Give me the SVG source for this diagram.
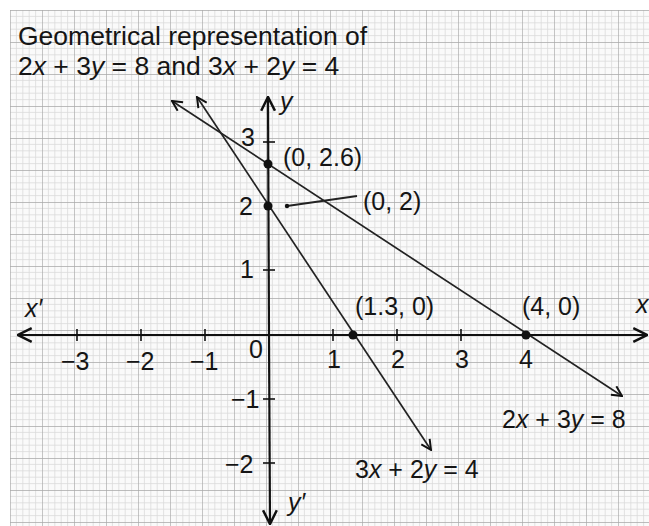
<svg xmlns="http://www.w3.org/2000/svg" width="649" height="526" viewBox="0 0 649 526">
  <defs>
    <pattern id="grid" x="10" y="10" width="32" height="32" patternUnits="userSpaceOnUse">
      <rect width="32" height="32" fill="#fafafa"/>
      <path d="M6.4 0V32M12.8 0V32M19.2 0V32M25.6 0V32M0 6.4H32M0 12.8H32M0 19.2H32M0 25.6H32" stroke="#dadada" stroke-width="0.8" fill="none"/>
      <path d="M0 0V32M0 0H32" stroke="#a8a8a8" stroke-width="1.3" fill="none"/>
    </pattern>
    <marker id="ah" viewBox="0 0 12 12" refX="11" refY="6" markerWidth="12" markerHeight="12" markerUnits="userSpaceOnUse" orient="auto-start-reverse">
      <path d="M1 1L11 6L1 11" fill="none" stroke="#111" stroke-width="2"/>
    </marker>
    <marker id="ahx" viewBox="0 0 14 14" refX="13" refY="7" markerWidth="16" markerHeight="16" markerUnits="userSpaceOnUse" orient="auto">
      <path d="M1 1L13 7L1 13" fill="none" stroke="#111" stroke-width="2.2"/>
    </marker>
  </defs>
  <style>
    text { font-family: "Liberation Sans", Arial, sans-serif; fill: #151515; }
    .t { font-size: 26.5px; }
    .l { font-size: 25px; }
    .i { font-style: italic; }
    .axis { stroke: #111; stroke-width: 2.2; fill: none; }
    .tick { stroke: #111; stroke-width: 1.6; }
    .eq { stroke: #222; stroke-width: 1.7; fill: none; }
    .pt { fill: #111; }
  </style>

  <rect x="0" y="0" width="649" height="526" fill="#ffffff"/>
  <rect x="10" y="10" width="639" height="516" fill="url(#grid)"/>

  <g id="title">
    <text class="t" x="18" y="45">Geometrical representation of</text>
    <text class="t" x="18" y="75">2<tspan class="i">x</tspan> + 3<tspan class="i">y</tspan> = 8 and 3<tspan class="i">x</tspan> + 2<tspan class="i">y</tspan> = 4</text>
  </g>

  <g id="axes">
    <line class="axis" x1="269" y1="335" x2="18" y2="335" marker-end="url(#ahx)"/>
    <line class="axis" x1="269" y1="335" x2="647" y2="335" marker-end="url(#ahx)"/>
    <line class="axis" x1="269" y1="335" x2="268" y2="97" marker-end="url(#ahx)"/>
    <line class="axis" x1="269" y1="335" x2="270" y2="524" marker-end="url(#ahx)"/>
    <g class="tick">
      <line x1="77" y1="329" x2="77" y2="341"/>
      <line x1="141" y1="329" x2="141" y2="341"/>
      <line x1="205" y1="329" x2="205" y2="341"/>
      <line x1="333" y1="329" x2="333" y2="341"/>
      <line x1="397" y1="329" x2="397" y2="341"/>
      <line x1="461" y1="329" x2="461" y2="341"/>
      <line x1="263" y1="142" x2="275" y2="142"/>
      <line x1="263" y1="270" x2="275" y2="270"/>
      <line x1="263" y1="399" x2="275" y2="399"/>
      <line x1="263" y1="463" x2="275" y2="463"/>
    </g>
    <text class="l i" x="25" y="317">x′</text>
    <text class="l i" x="636" y="313">x</text>
    <text class="l i" x="280" y="110">y</text>
    <text class="l i" x="288" y="511">y′</text>
    <text class="l" x="61" y="370">−3</text>
    <text class="l" x="126" y="370">−2</text>
    <text class="l" x="190" y="370">−1</text>
    <text class="l" x="249" y="358">0</text>
    <text class="l" x="327" y="368">1</text>
    <text class="l" x="391" y="368">2</text>
    <text class="l" x="455" y="368">3</text>
    <text class="l" x="519" y="368">4</text>
    <text class="l" x="240" y="278">1</text>
    <text class="l" x="239" y="215">2</text>
    <text class="l" x="241" y="146">3</text>
    <text class="l" x="231" y="408">−1</text>
    <text class="l" x="225" y="473">−2</text>
  </g>

  <g id="connectors">
    <line id="line-2x3y8" class="eq" x1="622" y1="396" x2="172" y2="101" marker-start="url(#ah)" marker-end="url(#ah)"/>
    <line id="line-3x2y4" class="eq" x1="431" y1="450" x2="197" y2="97" marker-start="url(#ah)" marker-end="url(#ah)"/>
    <line id="pointer-02" x1="287" y1="206" x2="357" y2="196" stroke="#222" stroke-width="1.8"/>
    <circle cx="287" cy="206" r="2.2" class="pt"/>
  </g>

  <g id="p-0-2-6">
    <circle class="pt" cx="268" cy="164" r="4.5"/>
    <text class="l" x="283" y="166">(0, 2.6)</text>
  </g>
  <g id="p-0-2">
    <circle class="pt" cx="268" cy="206" r="4.5"/>
    <text class="l" x="363" y="210">(0, 2)</text>
  </g>
  <g id="p-1-3-0">
    <circle class="pt" cx="353" cy="335" r="4.5"/>
    <text class="l" x="355" y="315">(1.3, 0)</text>
  </g>
  <g id="p-4-0">
    <circle class="pt" cx="526" cy="335" r="4.5"/>
    <text class="l" x="522" y="315">(4, 0)</text>
  </g>
  <g id="label-eq1">
    <text class="l" x="502" y="428">2<tspan class="i">x</tspan> + 3<tspan class="i">y</tspan> = 8</text>
  </g>
  <g id="label-eq2">
    <text class="l" x="355" y="478">3<tspan class="i">x</tspan> + 2<tspan class="i">y</tspan> = 4</text>
  </g>
</svg>
